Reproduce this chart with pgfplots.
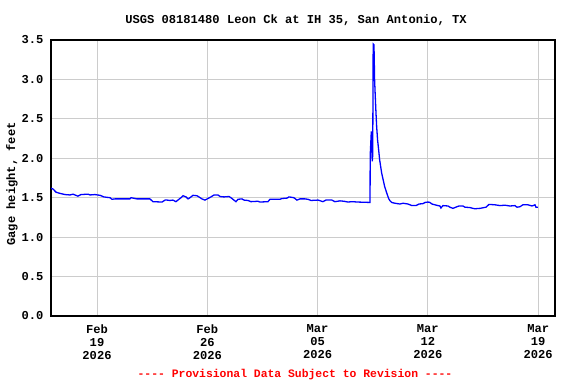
\documentclass[border=0pt]{standalone}
\usepackage{fontspec}
\setmainfont{Liberation Mono}[Ligatures=TeXOff]
\usepackage{pgfplots}
\pgfplotsset{compat=1.18}
\definecolor{usgsblue}{RGB}{0,0,255}
\definecolor{usgsred}{RGB}{255,0,0}
\definecolor{gridgray}{RGB}{204,204,204}
\newcommand{\lbl}{\fontsize{12.1bp}{13bp}\selectfont\bfseries}
\newcommand{\redlbl}{\fontsize{11.4bp}{13bp}\selectfont\bfseries}
\begin{document}
\begin{tikzpicture}
\path[use as bounding box] (0bp,0bp) rectangle (576bp,384bp);
\begin{axis}[
  at={(51bp,68bp)}, anchor=south west,
  scale only axis, width=504bp, height=276bp,
  xmin=-2.92, xmax=29.07, ymin=0, ymax=3.5,
  xtick={0,7,14,21,28},
  xticklabels={{Feb\\19\\2026},{Feb\\26\\2026},{Mar\\05\\2026},{Mar\\12\\2026},{Mar\\19\\2026}},
  ytick={0,0.5,1,1.5,2,2.5,3,3.5},
  yticklabels={0.0,0.5,1.0,1.5,2.0,2.5,3.0,3.5},
  grid=major,
  major grid style={gridgray, line width=1bp},
  major tick length=0pt,
  axis line style={black, line width=1.2bp},
  tick label style={font=\lbl},
  xticklabel style={align=center, yshift=-5bp},
  yticklabel style={xshift=-4bp},
  axis on top=false,
]
\addplot[usgsblue, line width=1.3bp, line join=miter] coordinates {
(-2.92,1.62) (-2.79,1.61) (-2.60,1.57) (-2.35,1.555) (-2.03,1.54) (-1.71,1.535)
(-1.52,1.545) (-1.40,1.535) (-1.21,1.52) (-1.02,1.54) (-0.57,1.545) (-0.44,1.535)
(-0.13,1.54) (0.19,1.53) (0.44,1.51) (0.83,1.50) (0.95,1.48) (1.14,1.485)
(2.09,1.485) (2.16,1.50) (2.41,1.49) (2.54,1.485) (3.36,1.485) (3.55,1.45)
(4.13,1.445) (4.32,1.47) (4.44,1.47) (4.63,1.465) (4.82,1.47) (5.01,1.45)
(5.20,1.48) (5.33,1.50) (5.46,1.525) (5.65,1.51) (5.78,1.485) (5.90,1.50)
(6.09,1.53) (6.35,1.525) (6.47,1.51) (6.66,1.485) (6.85,1.47) (7.04,1.49)
(7.23,1.51) (7.43,1.535) (7.68,1.535) (7.81,1.515) (8.06,1.51) (8.38,1.515)
(8.50,1.50) (8.69,1.47) (8.82,1.45) (8.95,1.48) (9.20,1.485) (9.33,1.47)
(9.58,1.465) (9.77,1.45) (10.22,1.455) (10.34,1.445) (10.85,1.45) (10.98,1.48)
(11.61,1.48) (11.74,1.49) (12.06,1.495) (12.19,1.51) (12.50,1.50) (12.69,1.47)
(12.88,1.485) (13.20,1.485) (13.39,1.48) (13.58,1.465) (14.03,1.47) (14.34,1.45)
(14.53,1.47) (14.91,1.47) (15.10,1.45) (15.42,1.46) (15.68,1.455) (15.93,1.445)
(16.18,1.45) (16.56,1.445) (17.33,1.44)
(17.34,2.03) (17.41,2.34) (17.47,1.96) (17.50,2.04) (17.53,3.45) (17.58,3.44)
(17.62,2.99) (17.69,2.65) (17.75,2.40) (17.81,2.23) (17.88,2.10) (17.94,1.98)
(18.07,1.81) (18.17,1.72) (18.26,1.64) (18.39,1.56) (18.51,1.49) (18.60,1.46)
(18.70,1.44) (18.91,1.43) (19.23,1.42) (19.42,1.43) (19.74,1.42) (19.99,1.40)
(20.24,1.40) (20.44,1.42) (20.69,1.425) (20.82,1.44) (21.01,1.445) (21.13,1.44)
(21.26,1.42) (21.45,1.41) (21.64,1.40) (21.77,1.395) (21.83,1.37) (21.96,1.40)
(22.28,1.395) (22.40,1.38) (22.59,1.365) (22.78,1.38) (22.97,1.395) (23.23,1.395)
(23.35,1.38) (23.67,1.375) (23.86,1.365) (23.99,1.36) (24.31,1.365) (24.69,1.38)
(24.88,1.415) (25.26,1.41) (25.58,1.40) (25.89,1.405) (26.21,1.395) (26.53,1.40)
(26.65,1.38) (26.84,1.385) (27.03,1.41) (27.35,1.41) (27.61,1.395) (27.80,1.41)
(27.86,1.38) (27.99,1.38)
};
\end{axis}
\node[font=\lbl, anchor=center] at (296bp,364bp) {USGS 08181480 Leon Ck at IH 35, San Antonio, TX};
\node[font=\lbl, rotate=90, anchor=center] at (12bp,200bp) {Gage height, feet};
\node[font=\redlbl, text=usgsred, anchor=center] at (295bp,9bp) {---- Provisional Data Subject to Revision ----};
\end{tikzpicture}
\end{document}
